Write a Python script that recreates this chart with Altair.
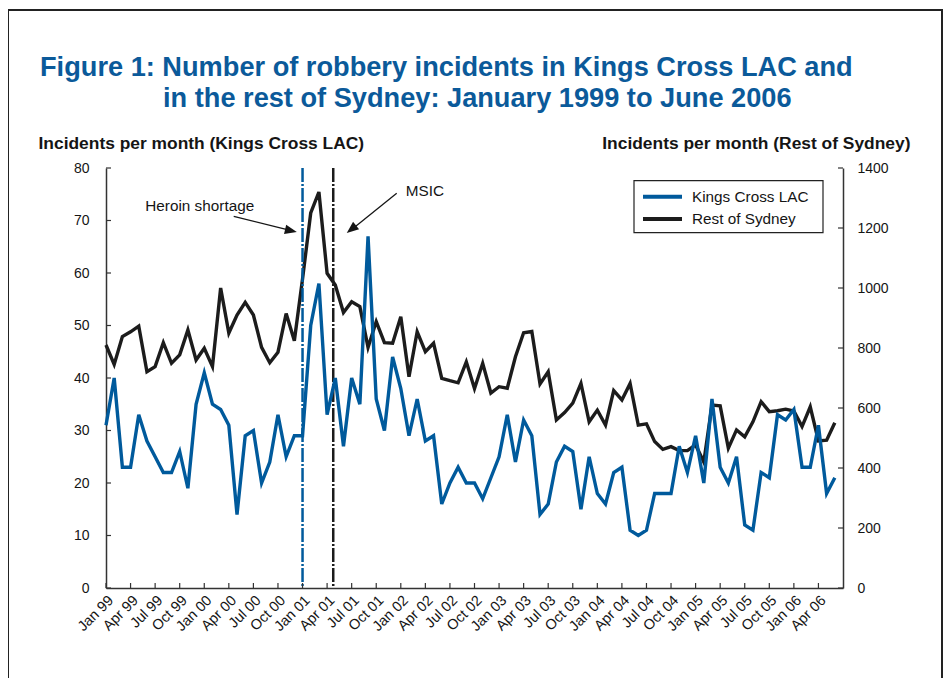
import altair as alt
import pandas as pd

# ---------------- data ----------------
title_lines = [
    "Figure 1: Number of robbery incidents in Kings Cross LAC and",
    "in the rest of Sydney: January 1999 to June 2006",
]
quarter_labels = [
    "Jan 99", "Apr 99", "Jul 99", "Oct 99", "Jan 00", "Apr 00", "Jul 00", "Oct 00",
    "Jan 01", "Apr 01", "Jul 01", "Oct 01", "Jan 02", "Apr 02", "Jul 02", "Oct 02",
    "Jan 03", "Apr 03", "Jul 03", "Oct 03", "Jan 04", "Apr 04", "Jul 04", "Oct 04",
    "Jan 05", "Apr 05", "Jul 05", "Oct 05", "Jan 06", "Apr 06",
]
# monthly values, Jan 1999 .. Jun 2006
kings_cross = [
    31, 40, 23, 23, 33, 28, 25, 22, 22, 26, 19, 35,
    41, 35, 34, 31, 14, 29, 30, 20, 24, 33, 25, 29,
    29, 50, 58, 33, 40, 27, 40, 35, 67, 36, 30, 44,
    38, 29, 36, 28, 29, 16, 20, 23, 20, 20, 17, 21,
    25, 33, 24, 32, 29, 14, 16, 24, 27, 26, 15, 25,
    18, 16, 22, 23, 11, 10, 11, 18, 18, 18, 27, 22,
    29, 20, 36, 23, 20, 25, 12, 11, 22, 21, 33, 32,
    34, 23, 23, 31, 18, 21,
]
rest_of_sydney = [
    810, 745, 838, 854, 873, 721, 738, 818, 749, 777, 860, 760,
    799, 738, 1000, 850, 910, 952, 910, 802, 751, 786, 915, 824,
    1030, 1250, 1320, 1049, 1010, 918, 954, 938, 802, 888, 818, 816,
    904, 704, 854, 788, 816, 699, 691, 684, 754, 665, 749, 650,
    671, 666, 771, 851, 855, 680, 721, 560, 585, 616, 682, 554,
    593, 543, 658, 627, 682, 543, 547, 488, 462, 471, 458, 458,
    477, 420, 610, 607, 466, 527, 504, 554, 621, 588, 591, 596,
    590, 538, 604, 490, 493, 551,
]
series_names = ["Kings Cross LAC", "Rest of Sydney"]
left_ticks = [0, 10, 20, 30, 40, 50, 60, 70, 80]
right_ticks = [0, 200, 400, 600, 800, 1000, 1200, 1400]
event_names = ["Heroin shortage", "MSIC"]
event_months = [24, 27.75]          # month index of the two vertical markers
# annotation anchors (month index, Kings Cross value)
heroin_text = [4.8, 71.8]
heroin_arrow_from = [15.6, 70.8]
heroin_arrow_base = [22.0, 68.3]
heroin_arrow_tip = [23.3, 67.8]
msic_text = [36.6, 74.7]
msic_arrow_from = [35.5, 75.2]
msic_arrow_base = [30.5, 68.9]
msic_arrow_tip = [29.4, 67.6]

# ---------------- styling ----------------
W, H = 737, 420
BLUE = "#005a9c"
BLACK = "#1c1c1c"
TXT = "#151515"
FONT = "Liberation Sans, Arial, sans-serif"

n = len(kings_cross)
df = pd.DataFrame({"month": list(range(n)), "kings": kings_cross, "rest": rest_of_sydney})

xs = alt.Scale(domain=[0, 90], nice=False, zero=False)
yl = alt.Scale(domain=[0, 80], nice=False)
yr = alt.Scale(domain=[0, 1400], nice=False)

quarter_idx = [3 * i for i in range(len(quarter_labels))]
label_expr = "[" + ",".join("'%s'" % s for s in quarter_labels) + "][round(datum.value / 3)]"

x_axis = alt.Axis(
    values=quarter_idx, labelExpr=label_expr, ticks=False, tickSize=0, grid=False,
    domainColor="#333", domainWidth=1.5, labelAngle=315, labelAlign="right",
    labelBaseline="top", labelPadding=5, labelFont=FONT, labelFontSize=14.5,
    labelColor=TXT, labelOverlap=False, labelFlush=False, title=None,
)
yl_axis = alt.Axis(
    values=left_ticks, orient="left", ticks=False, tickSize=0, grid=False,
    domainColor="#333", domainWidth=1.5, labelPadding=17, labelFont=FONT,
    labelFontSize=14, labelColor=TXT, format="d",
    title="Incidents per month (Kings Cross LAC)", titleAngle=0, titleAlign="left",
    titleBaseline="alphabetic", titleX=-68, titleY=-20, titleFont=FONT,
    titleFontSize=17.4, titleFontWeight="bold", titleColor=TXT,
)
yr_axis = alt.Axis(
    values=right_ticks, orient="right", ticks=False, tickSize=0, grid=False,
    domainColor="#333", domainWidth=1.5, labelPadding=14, labelFont=FONT,
    labelFontSize=14, labelColor=TXT, format="d",
    title="Incidents per month (Rest of Sydney)", titleAngle=0, titleAlign="right",
    titleBaseline="alphabetic", titleX=67, titleY=-20, titleFont=FONT,
    titleFontSize=17.4, titleFontWeight="bold", titleColor=TXT,
)

X = alt.X("month:Q", scale=xs, axis=x_axis)

# ---------------- right-scale group ----------------
black_line = alt.Chart(df).mark_line(color=BLACK, strokeWidth=3.4).encode(
    x=X, y=alt.Y("rest:Q", scale=yr, axis=yr_axis),
)
rt = alt.Chart(pd.DataFrame({"rest": right_ticks})).mark_rule(color="#333", strokeWidth=1.2).encode(
    y=alt.Y("rest:Q", scale=yr, axis=yr_axis), x=alt.value(W - 5), x2=alt.value(W)
)
right_group = alt.layer(black_line, rt)

# ---------------- left-scale group ----------------
YL = alt.Y("kings:Q", scale=yl, axis=yl_axis)

ev = pd.DataFrame({"name": event_names, "month": event_months})
event_layers = []
for name, col in zip(event_names, [BLUE, BLACK]):
    event_layers.append(
        alt.Chart(ev[ev["name"] == name]).mark_rule(
            color=col, strokeWidth=2.5, strokeDash=[14, 2, 2, 2]
        ).encode(x=X, y=alt.value(0), y2=alt.value(H))
    )

blue_line = alt.Chart(df).mark_line(color=BLUE, strokeWidth=3.4).encode(x=X, y=YL)
lt = alt.Chart(pd.DataFrame({"kings": left_ticks})).mark_rule(color="#333", strokeWidth=1.2).encode(
    y=YL, x=alt.value(0), x2=alt.value(5)
)
xt = alt.Chart(pd.DataFrame({"month": quarter_idx})).mark_rule(color="#333", strokeWidth=1.2).encode(
    x=X, y=alt.value(H), y2=alt.value(H - 5)
)

# annotations
ARROW = "M0,0L-0.8,2L0.8,2Z"
ann_layers = []
for txt, tpos, a0, a1, tip, ang in [
    (event_names[0], heroin_text, heroin_arrow_from, heroin_arrow_base, heroin_arrow_tip, 103),
    (event_names[1], msic_text, msic_arrow_from, msic_arrow_base, msic_arrow_tip, 231),
]:
    tdf = pd.DataFrame({"month": [tpos[0]], "kings": [tpos[1]], "t": [txt]})
    ann_layers.append(
        alt.Chart(tdf).mark_text(align="left", baseline="alphabetic", font=FONT,
                                 fontSize=15.3, color=TXT).encode(x=X, y=YL, text="t:N")
    )
    adf = pd.DataFrame({"month": [a0[0], a1[0]], "kings": [a0[1], a1[1]], "o": [0, 1]})
    ann_layers.append(
        alt.Chart(adf).mark_line(color=TXT, strokeWidth=1.3).encode(x=X, y=YL, order="o:Q")
    )
    hdf = pd.DataFrame({"month": [tip[0]], "kings": [tip[1]]})
    ann_layers.append(
        alt.Chart(hdf).mark_point(shape=ARROW, size=144, filled=True, color=TXT, opacity=1,
                                  angle=ang, strokeWidth=0).encode(x=X, y=YL)
    )

# legend (drawn manually)
one = pd.DataFrame({"a": [0]})
legend_layers = [
    alt.Chart(one).mark_rect(fill="white", stroke="#222", strokeWidth=1.2).encode(
        x=alt.value(528), x2=alt.value(717), y=alt.value(12.7), y2=alt.value(64.7))
]
for i, (name, col) in enumerate(zip(series_names, [BLUE, BLACK])):
    yy = 28.7 + 22.3 * i
    legend_layers.append(
        alt.Chart(one).mark_rule(color=col, strokeWidth=4).encode(
            x=alt.value(537), x2=alt.value(576), y=alt.value(yy))
    )
    legend_layers.append(
        alt.Chart(pd.DataFrame({"t": [name]})).mark_text(
            align="left", baseline="middle", font=FONT, fontSize=15.3, color=TXT).encode(
            x=alt.value(586), y=alt.value(yy), text="t:N")
    )

# titles
title_layers = []
for line, (tx, ty) in zip(title_lines, [(-66, -92), (57, -61)]):
    title_layers.append(
        alt.Chart(pd.DataFrame({"t": [line]})).mark_text(
            align="left", baseline="alphabetic", font=FONT, fontSize=27.2,
            fontWeight="bold", color="#0b5a9a").encode(
            x=alt.value(tx), y=alt.value(ty), text="t:N")
    )

frame = alt.Chart(one).mark_rect(fillOpacity=0, stroke="#222", strokeWidth=2).encode(
    x=alt.value(-98), x2=alt.value(836), y=alt.value(-158), y2=alt.value(640)
)

left_group = alt.layer(
    *event_layers, blue_line, lt, xt, *ann_layers, *legend_layers, *title_layers, frame
)

chart = (
    alt.layer(right_group, left_group)
    .resolve_scale(y="independent")
    .properties(
        width=W, height=H,
        padding={"left": 98, "top": 160, "right": 100, "bottom": 90},
        autosize=alt.AutoSizeParams(type="none"),
    )
    .configure_view(stroke="transparent")
)

chart.save("out.html", embed_options={"renderer": "svg", "actions": False})
